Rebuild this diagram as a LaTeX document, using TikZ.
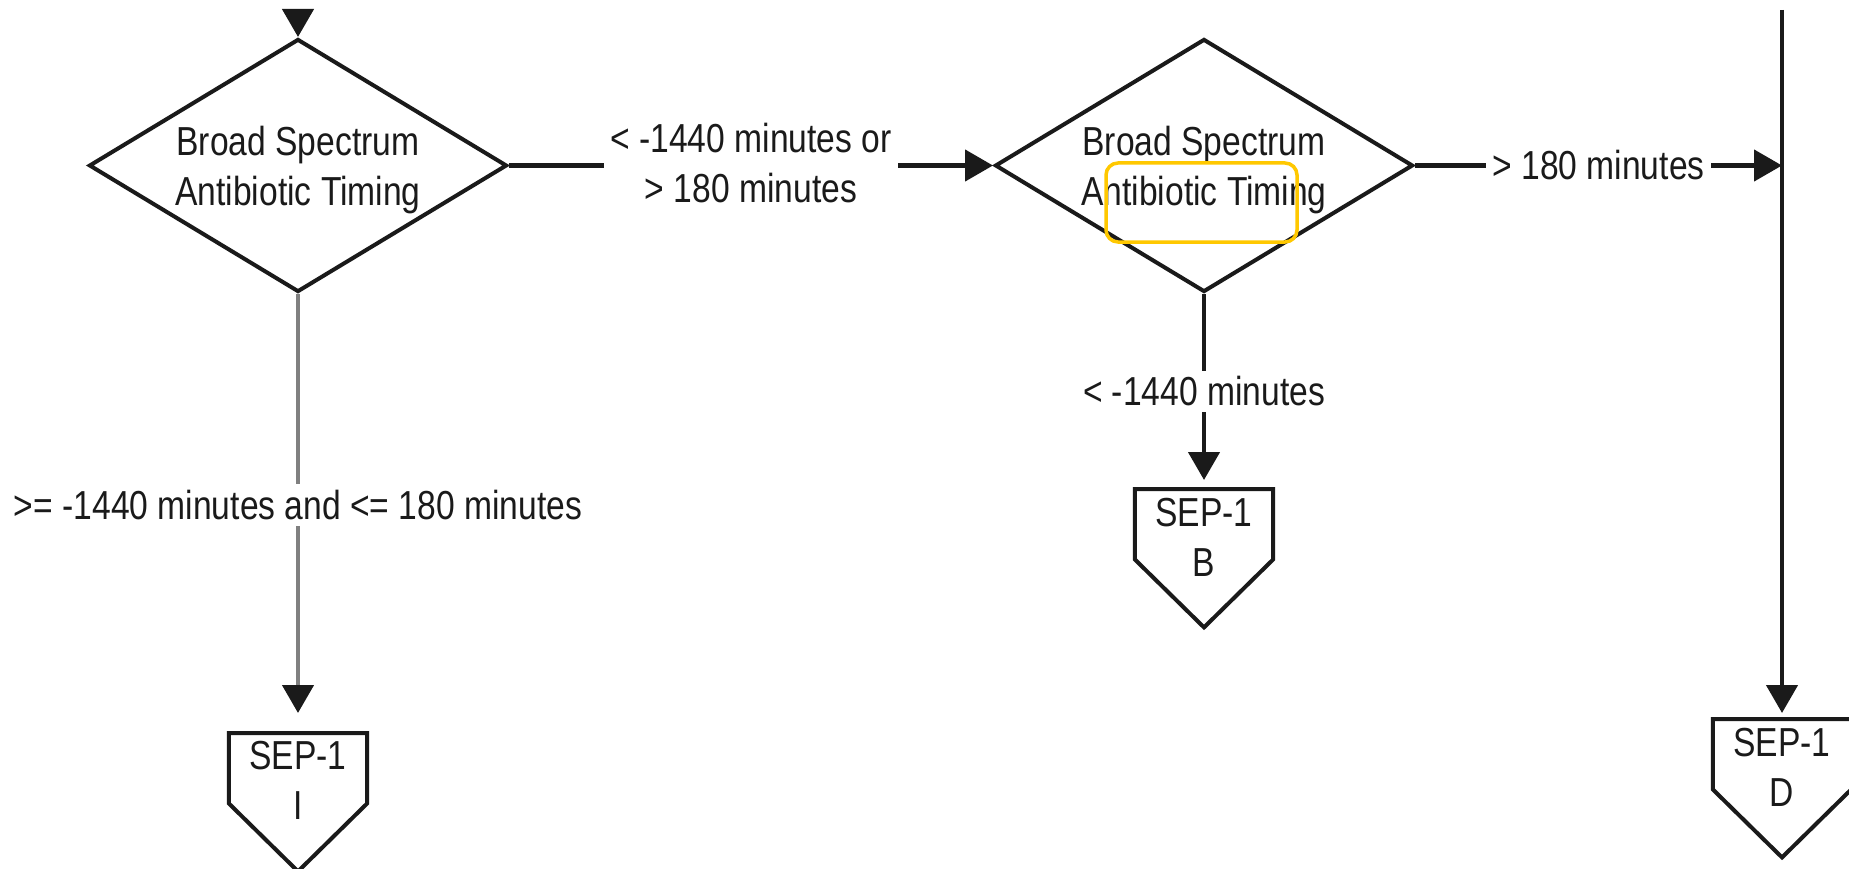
\documentclass[tikz,border=0pt]{standalone}
\usepackage{fontspec}
\setmainfont{Liberation Sans}[FakeStretch=0.83]
\usetikzlibrary{shapes.geometric,arrows.meta}
\definecolor{ink}{HTML}{1A1A1A}
\definecolor{conngray}{HTML}{808080}
\definecolor{hilite}{HTML}{FFC800}
\begin{document}
\begin{tikzpicture}[x=1pt,y=-1pt,
  every node/.style={font=\fontsize{40.5pt}{50pt}\selectfont, text=ink},
  decision/.style={diamond, draw=ink, line width=4pt, aspect=1.65, minimum width=418pt, minimum height=253pt, inner sep=0pt, align=center, text depth=0pt},
  sepframe/.style={rectangle, minimum width=138pt, minimum height=70pt, inner sep=0pt, anchor=north},
  septext/.style={align=center},
  offpage/.style={draw=ink, line width=4pt, line join=miter},
  conn/.style={draw=ink, line width=4.5pt, -{Triangle[length=28pt,width=31pt]}},
  grayconn/.style={draw=conngray, line width=4.5pt, -{Triangle[length=28pt,width=31pt,color=ink]}},
  lbl/.style={fill=white, inner sep=6pt, align=center},
  highlight/.style={draw=hilite, line width=3.5pt, rounded corners=12pt}
]
\useasboundingbox (0,0) rectangle (1849,869);

% decisions
\node[decision] (d1) at (298,165.5) {Broad Spectrum\\Antibiotic Timing};
\node[decision] (d2) at (1204,165.5) {Broad Spectrum\\Antibiotic Timing};

% off-page connectors
\node[sepframe] (sepI) at (298,733) {};
\node[sepframe] (sepB) at (1204,489) {};
\node[sepframe] (sepD) at (1782,719) {};
\foreach \n in {sepI,sepB,sepD}{
  \draw[offpage] (\n.north west) -- (\n.north east) -- (\n.south east)
     -- ([yshift=-68pt]\n.south) -- (\n.south west) -- cycle;
}
\node[septext] (sepIt) at ([yshift=-47pt]sepI.north) {SEP-1\\I};
\node[septext] (sepBt) at ([yshift=-48pt]sepB.north) {SEP-1\\B};
\node[septext] (sepDt) at ([yshift=-48pt]sepD.north) {SEP-1\\D};

% free ends
\coordinate (topin) at (298,10);
\coordinate (rtop) at (1782,10);
\coordinate (rjoin) at (1782,165.5);

% connectors
\draw[conn] (topin) -- (d1.north);
\draw[conn] (d1.east) -- node[lbl, yshift=2pt] {< -1440 minutes or\\> 180 minutes} (d2.west);
\draw[conn] (d2.east) -- node[lbl] {> 180 minutes} (rjoin);
\draw[conn, shorten >=6pt] (rtop) -- (sepD.north);
\draw[conn, shorten >=9pt] (d2.south) -- node[lbl] {< -1440 minutes} (sepB.north);
\draw[grayconn, shorten >=20pt] (d1.south) -- node[lbl, pos=0.48] {>= -1440 minutes and <= 180 minutes} (sepI.north);

% highlight
\draw[highlight] (1106,163) rectangle (1297,242);
\end{tikzpicture}
\end{document}
